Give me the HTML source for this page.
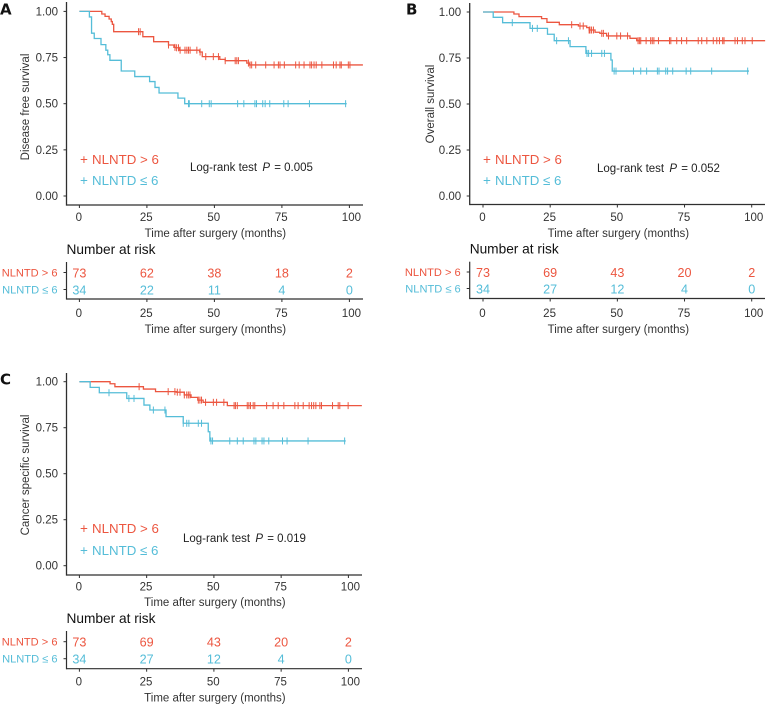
<!DOCTYPE html>
<html lang="en">
<head>
<meta charset="utf-8">
<title>Kaplan-Meier survival curves by NLNTD</title>
<style>
html,body{margin:0;padding:0;background:#fff;}
svg{display:block;}
text{font-family:"Liberation Sans",sans-serif;}
</style>
</head>
<body>
<svg id="figure" xmlns="http://www.w3.org/2000/svg" width="771" height="706" viewBox="0 0 771 706"></svg>
<script>
// ---- Data: Panel A (disease free survival) ----
const aRedTimes = [8.3,9.5,11,11.8,12.2,12.7,23.5,27.5,33,35,35.5,37,44.5,45.5,52,54,62,63];
const aRedSurv = [0.986,0.973,0.959,0.945,0.93,0.89,0.863,0.836,0.818,0.805,0.803,0.79,0.78,0.755,0.74,0.733,0.72,0.71];
const aRedCensor = [21.9,22.5,33,35.4,36,36.7,37.3,39.1,39.8,40.4,41,43.5,44.7,46.8,49.6,51.5,54,57.7,58.3,58.9,62.6,63.2,63.8,65.3,69,72.1,73.7,74.3,75.9,80.1,81.4,83.2,85.4,86,86.9,87.7,89.8,94.1,95.1,96.5,97,99.6,100.2];
const aRedEnd = 105;
const aBlueTimes = [3.7,4.5,5.5,8,9.8,10.5,11.3,15.5,20.5,26,28,29.5,36.5,39];
const aBlueSurv = [0.97,0.882,0.853,0.82,0.79,0.765,0.735,0.677,0.647,0.62,0.588,0.558,0.53,0.5];
const aBlueCensor = [40.4,40.7,45.3,48.1,48.8,58.6,60.9,65,65.6,67.9,68.8,70.5,75.7,77.3,85.2,98.6];
const aBlueEnd = 99;
const aRiskRed = [73,62,38,18,2];
const aRiskBlue = [34,22,11,4,0];

// ---- Data: Panel B (overall survival) ----
const bRedTimes = [11.5,13.4,21.8,23.8,28.4,35.5,38.6,39.5,41.7,43.5,46,54.7,57.2];
const bRedSurv = [0.989,0.975,0.964,0.944,0.931,0.924,0.915,0.902,0.89,0.884,0.87,0.857,0.844];
const bRedCensor = [33,36.1,37.3,39.5,39.8,40.4,41.1,44.2,44.8,46.7,49.8,51.2,53.8,57.7,58.2,58.7,60.7,62.4,63,63.6,65.3,69.4,69.9,72.1,73.9,75.8,80.1,81.4,83.3,85.7,87,88,89.2,89.7,93.8,94.7,96.5,97.5,100.2];
const bRedEnd = 105;
const bBlueTimes = [3.8,7.3,17.5,24,26.5,32.4,38.3,47.6,48.1];
const bBlueSurv = [0.971,0.942,0.911,0.879,0.844,0.812,0.775,0.739,0.679];
const bBlueCensor = [10.9,18.4,20.2,27.4,31.8,38.7,39.3,40.4,44.2,45.2,48.8,49.5,56,58.7,60.9,64.9,65.5,68,68.7,70.6,75.6,77.3,85.1,98.5];
const bBlueEnd = 99;
const bRiskRed = [73,69,43,20,2];
const bRiskBlue = [34,27,12,4,0];

// ---- Data: Panel C (cancer specific survival) ----
const cRedTimes = [11.4,13.2,23.8,28.3,36,39,41.5,44,46,55];
const cRedSurv = [0.989,0.973,0.96,0.946,0.943,0.928,0.915,0.9,0.888,0.87];
const cRedCensor = [22.2,33,35.5,36.4,37.4,39,39.9,40.5,41.1,44.2,44.8,45.4,46.9,49.8,51,53.7,57.5,58,58.7,62.4,63,63.6,64.6,65.2,69.6,72,73.9,76,80.1,81.3,83.2,85.4,86.3,87.1,87.9,89.4,90,94.1,96.2,96.8,99.9];
const cRedEnd = 105;
const cBlueTimes = [4,7.4,17.6,24,26.2,32.2,38.6,47.9,48.5];
const cBlueSurv = [0.969,0.94,0.909,0.873,0.846,0.81,0.774,0.728,0.678];
const cBlueCensor = [11,18.4,20.3,27.5,31.8,38.6,39.9,40.7,44.2,45.4,48.9,49.5,55.9,58.7,60.9,64.9,65.6,67.9,68.6,70.4,75.5,77.2,85,98.6];
const cBlueEnd = 99;
const cRiskRed = [73,69,43,20,2];
const cRiskBlue = [34,27,12,4,0];

// ---- Axis labels ----
const timeTicks = [0,25,50,75,100];
const survTicks = [0,0.25,0.5,0.75,1];
const survTickLabels = ['0.00','0.25','0.50','0.75','1.00'];

const RED = '#ec5640';
const BLUE = '#55bdd8';
const INK = '#2f2f2f';
const TEXT = '#333333';
const NS = 'http://www.w3.org/2000/svg';
const figure = document.getElementById('figure');

function makeGroup(parent, name) {
  const g = document.createElementNS(NS, 'g');
  
  
  parent.appendChild(g);
  return g;
}
function makeLine(parent, name, x1, y1, x2, y2, color, width) {
  const l = document.createElementNS(NS, 'line');
  l.setAttribute('x1', x1);
  l.setAttribute('y1', y1);
  l.setAttribute('x2', x2);
  l.setAttribute('y2', y2);
  l.setAttribute('stroke', color);
  l.setAttribute('stroke-width', width);
  
  
  parent.appendChild(l);
  return l;
}
function makeText(parent, name, str, x, y, size, color, anchor, extra) {
  const t = document.createElementNS(NS, 'text');
  t.setAttribute('x', x);
  t.setAttribute('y', (extra && extra.rotate) ? y : y + (size < 13 ? 1 : 0.3));
  t.setAttribute('font-size', size);
  t.setAttribute('fill', color);
  t.setAttribute('text-anchor', anchor);
  t.setAttribute('dominant-baseline', 'central');
  if (extra && extra.rotate) t.setAttribute('transform', 'rotate(-90 ' + x + ' ' + y + ')');
  if (extra && extra.weight) t.setAttribute('font-weight', extra.weight);
  if (extra && extra.family) t.setAttribute('style', 'font-family:' + extra.family);
  t.textContent = str;
  
  
  parent.appendChild(t);
  return t;
}
function survivalAt(times, surv, t) {
  let s = 1;
  for (let i = 0; i < times.length; i++) {
    if (times[i] <= t) s = surv[i];
  }
  return s;
}
function tickLabelX(x, t) {
  return x(t) + (t === 100 ? 2 : -0.6);
}
function drawSeries(parent, key, times, surv, censor, end, color, xScale, yScale) {
  const g = makeGroup(parent, key + '-series');
  let d = 'M' + xScale(0) + ' ' + yScale(1);
  times.forEach(function (t, i) {
    d += 'H' + xScale(t) + 'V' + yScale(surv[i]);
  });
  d += 'H' + xScale(end);
  const p = document.createElementNS(NS, 'path');
  p.setAttribute('d', d);
  p.setAttribute('fill', 'none');
  p.setAttribute('stroke', color);
  p.setAttribute('stroke-width', '1.3');
  
  
  g.appendChild(p);
  censor.forEach(function (t) {
    const cx = xScale(t);
    const cy = yScale(survivalAt(times, surv, t));
    makeLine(g, key + '-censor-mark', cx, cy - 3.5, cx, cy + 3.5, color, 1);
  });
}
function drawPanel(cfg) {
  const root = makeGroup(figure, 'panel-' + cfg.id);
  const x = function (t) { return cfg.x0 + t * cfg.xu; };
  const y = function (s) { return cfg.y0 - s * cfg.yu; };

  makeText(root, 'panel-label', cfg.id.toUpperCase(), cfg.letterX, cfg.letterY, 15, '#111', 'start', { weight: 'bold', family: '"DejaVu Sans",sans-serif' });

  // main axes
  const axes = makeGroup(root, 'main-axes');
  makeLine(axes, 'y-axis-line', cfg.left, cfg.top, cfg.left, cfg.bottom + 0.6, INK, 1.3);
  makeLine(axes, 'x-axis-line', cfg.left, cfg.bottom, cfg.right, cfg.bottom, INK, 1.3);
  survTicks.forEach(function (s, i) {
    makeLine(axes, 'y-tick', cfg.left - 3, y(s), cfg.left, y(s), INK, 1);
    makeText(axes, 'y-tick-label', survTickLabels[i], cfg.left - 8.5, y(s), 11.5, TEXT, 'end');
  });
  timeTicks.forEach(function (t) {
    makeLine(axes, 'x-tick', x(t), cfg.bottom, x(t), cfg.bottom + 3, INK, 1);
    makeText(axes, 'x-tick-label', String(t), tickLabelX(x, t), cfg.tickY, 11.5, TEXT, 'middle');
  });
  makeText(axes, 'x-axis-title', 'Time after surgery (months)', x(50) + 1, cfg.titleY, 11.5, TEXT, 'middle');
  makeText(axes, 'y-axis-title', cfg.yTitle, cfg.yTitleX, cfg.yTitleY, 11.5, TEXT, 'middle', { rotate: true });

  // curves
  drawSeries(root, 'nlntd-high', cfg.redT, cfg.redS, cfg.redC, cfg.redE, RED, x, y);
  drawSeries(root, 'nlntd-low', cfg.blueT, cfg.blueS, cfg.blueC, cfg.blueE, BLUE, x, y);

  // legend
  const legend = makeGroup(root, 'legend');
  const hi = makeGroup(legend, 'legend-entry-high');
  makeText(hi, 'legend-key-high', '+', cfg.legX, cfg.legY1, 13.5, RED, 'middle');
  makeText(hi, 'legend-label-high', 'NLNTD > 6', cfg.legX + 8, cfg.legY1, 13.3, RED, 'start');
  const lo = makeGroup(legend, 'legend-entry-low');
  makeText(lo, 'legend-key-low', '+', cfg.legX, cfg.legY2, 13.5, BLUE, 'middle');
  makeText(lo, 'legend-label-low', 'NLNTD \u2264 6', cfg.legX + 8, cfg.legY2, 13.3, BLUE, 'start');

  // log-rank annotation
  const lr = makeText(root, 'log-rank-annotation', 'Log-rank test ', cfg.lrX, cfg.lrY, 11.5, '#222', 'start');
  const ital = document.createElementNS(NS, 'tspan');
  ital.setAttribute('font-style', 'italic');
  ital.setAttribute('dx', '2');
  ital.textContent = 'P';
  lr.appendChild(ital);
  const val = document.createElementNS(NS, 'tspan');
  val.setAttribute('dx', '1');
  val.textContent = ' = ' + cfg.pValue;
  lr.appendChild(val);

  // risk table
  const risk = makeGroup(root, 'risk-table');
  makeText(risk, 'risk-table-title', 'Number at risk', cfg.left, cfg.narY, 13.7, '#111', 'start');
  makeLine(risk, 'risk-y-axis-line', cfg.left, cfg.riskTop, cfg.left, cfg.riskBottom + 0.6, INK, 1.2);
  makeLine(risk, 'risk-x-axis-line', cfg.left, cfg.riskBottom, cfg.right, cfg.riskBottom, INK, 1.2);
  makeLine(risk, 'risk-row-tick-high', cfg.left - 3, cfg.row1, cfg.left, cfg.row1, INK, 1);
  makeLine(risk, 'risk-row-tick-low', cfg.left - 3, cfg.row2, cfg.left, cfg.row2, INK, 1);
  makeText(risk, 'risk-row-label-high', 'NLNTD > 6', cfg.left - 9, cfg.row1, 11.1, RED, 'end');
  makeText(risk, 'risk-row-label-low', 'NLNTD \u2264 6', cfg.left - 9, cfg.row2, 11.1, BLUE, 'end');
  timeTicks.forEach(function (t, i) {
    makeText(risk, 'risk-count-high', String(cfg.riskR[i]), x(t), cfg.row1, 12.6, RED, 'middle');
    makeText(risk, 'risk-count-low', String(cfg.riskB[i]), x(t), cfg.row2, 12.6, BLUE, 'middle');
    makeLine(risk, 'risk-x-tick', x(t), cfg.riskBottom, x(t), cfg.riskBottom + 3, INK, 1);
    makeText(risk, 'risk-x-tick-label', String(t), tickLabelX(x, t), cfg.riskTickY, 11.5, TEXT, 'middle');
  });
  makeText(risk, 'risk-x-axis-title', 'Time after surgery (months)', x(50) + 1, cfg.riskTitleY, 11.5, TEXT, 'middle');
}

drawPanel({
  id: 'a', yTitle: 'Disease free survival', pValue: '0.005',
  redT: aRedTimes, redS: aRedSurv, redC: aRedCensor, redE: aRedEnd,
  blueT: aBlueTimes, blueS: aBlueSurv, blueC: aBlueCensor, blueE: aBlueEnd,
  riskR: aRiskRed, riskB: aRiskBlue,
  x0: 79.4, xu: 2.7, y0: 196, yu: 184.6,
  left: 66.5, right: 363, top: 2, bottom: 205,
  letterX: 0, letterY: 9, tickY: 217, titleY: 233,
  yTitleX: 26, yTitleY: 107, legX: 84, legY1: 159, legY2: 180, lrX: 190, lrY: 167,
  narY: 249, riskTop: 262, riskBottom: 299, row1: 272.5, row2: 289.5, riskTickY: 313, riskTitleY: 329
});
drawPanel({
  id: 'b', yTitle: 'Overall survival', pValue: '0.052',
  redT: bRedTimes, redS: bRedSurv, redC: bRedCensor, redE: bRedEnd,
  blueT: bBlueTimes, blueS: bBlueSurv, blueC: bBlueCensor, blueE: bBlueEnd,
  riskR: bRiskRed, riskB: bRiskBlue,
  x0: 483, xu: 2.687, y0: 196, yu: 184,
  left: 469.7, right: 765, top: 3, bottom: 204.5,
  letterX: 406, letterY: 9, tickY: 217, titleY: 233,
  yTitleX: 431, yTitleY: 104, legX: 487, legY1: 159, legY2: 180, lrX: 597, lrY: 168,
  narY: 248.5, riskTop: 261.7, riskBottom: 298.5, row1: 272, row2: 288.5, riskTickY: 313, riskTitleY: 329
});
drawPanel({
  id: 'c', yTitle: 'Cancer specific survival', pValue: '0.019',
  redT: cRedTimes, redS: cRedSurv, redC: cRedCensor, redE: cRedEnd,
  blueT: cBlueTimes, blueS: cBlueSurv, blueC: cBlueCensor, blueE: cBlueEnd,
  riskR: cRiskRed, riskB: cRiskBlue,
  x0: 79.4, xu: 2.69, y0: 565.7, yu: 184,
  left: 66.5, right: 362, top: 373, bottom: 575,
  letterX: 0, letterY: 379, tickY: 586.7, titleY: 602,
  yTitleX: 26, yTitleY: 475, legX: 84, legY1: 528, legY2: 550, lrX: 183, lrY: 538,
  narY: 618, riskTop: 631, riskBottom: 668.7, row1: 641.7, row2: 658.7, riskTickY: 681.7, riskTitleY: 697.7
});
</script>
</body>
</html>
